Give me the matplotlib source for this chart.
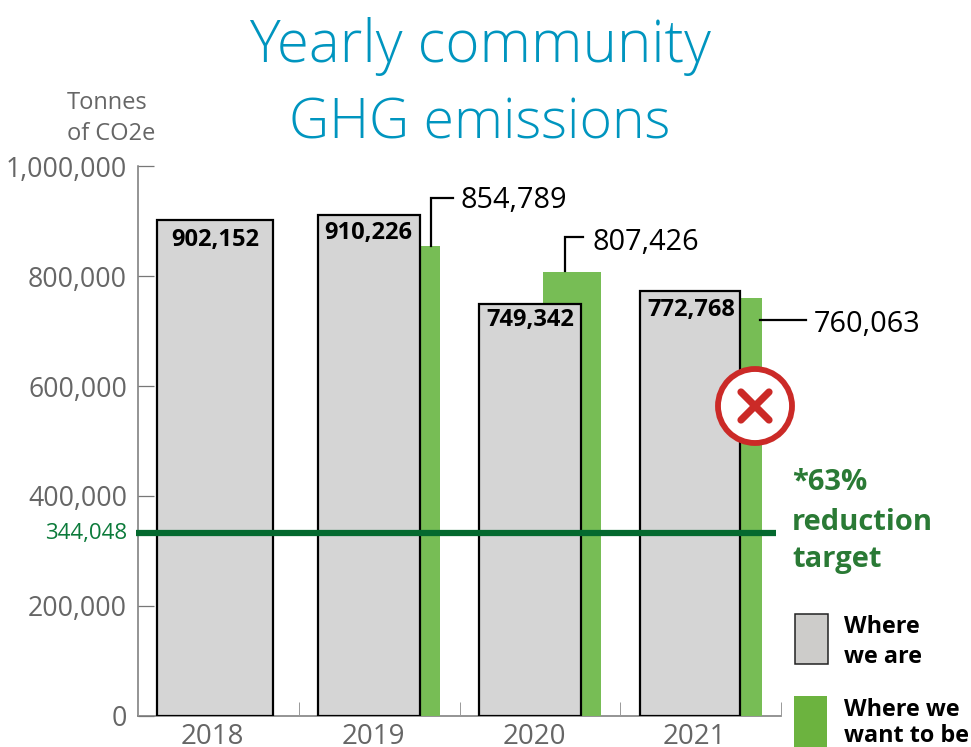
import matplotlib
matplotlib.use('Agg')
import matplotlib.pyplot as plt
from matplotlib.patches import Circle, Rectangle
from matplotlib.ticker import FuncFormatter

plt.rcParams['font.family'] = ['Open Sans', 'DejaVu Sans']

years = ['2018', '2019', '2020', '2021']
actual = [902152, 910226, 749342, 772768]
target_years = ['2019', '2020', '2021']
wanted = [854789, 807426, 760063]
# the line sits a bit below its printed value in the original
target_label = '344,048'
target_drawn = 332000
y_ticks = [0, 200000, 400000, 600000, 800000, 1000000]

W, H = 971, 747
x0, x1, y0, y1 = 138, 781.2, 716, 166
cat_w = (x1 - x0) / 4

gray_shift = [-3.4, -10.2, -10, -10.8]
gray_width = [116, 102, 102, 100]
label_shift = [0, -1, 0, 1]
label_drop = [20, 18, 16, 19]

fig = plt.figure(figsize=(W / 100, H / 100), dpi=100)
ax = fig.add_axes([x0 / W, (H - y0) / H, (x1 - x0) / W, (y0 - y1) / H])
ax.set_xlim(0, 4)
ax.set_ylim(0, 1000000)

for yr, v in zip(target_years, wanted):
    c = years.index(yr) + 0.5 + 32 / cat_w
    ax.bar(c, v, width=58 / cat_w, color='#77bd55', zorder=2)

for i, v in enumerate(actual):
    c = i + 0.5 + gray_shift[i] / cat_w
    ax.bar(c, v, width=gray_width[i] / cat_w, color='#d5d5d5', edgecolor='black',
           linewidth=1.6, zorder=3)
    ax.annotate(f'{v:,}', (c, v), xytext=(label_shift[i], -label_drop[i]),
                textcoords='offset pixels', ha='center', va='center',
                fontsize=17, fontweight='bold', color='black', zorder=5)

ax.spines['top'].set_visible(False)
ax.spines['right'].set_visible(False)
for s in ['left', 'bottom']:
    ax.spines[s].set_color('#777777')
    ax.spines[s].set_linewidth(1.1)
    ax.spines[s].set_zorder(1)

ax.set_yticks(y_ticks)
ax.yaxis.set_major_formatter(FuncFormatter(lambda v, p: f'{int(v):,}'))
ax.tick_params(axis='y', direction='in', length=11.5, width=0.9, color='#777777',
               labelcolor='#666666', labelsize=19.2, pad=8)
ax.set_xticks([0, 1, 2, 3, 4])
ax.set_xticklabels([])
ax.tick_params(axis='x', direction='in', length=10, width=0.7, color='#999999')
for i, yr in enumerate(years):
    ax.annotate(yr, (i + 0.5, 0), xytext=(-6, -28), textcoords='offset pixels',
                ha='center', va='baseline', fontsize=20, color='#666666',
                annotation_clip=False)

ax.plot([-2 / cat_w, 3.965], [target_drawn, target_drawn], color='#04692f',
        linewidth=4.5, solid_capstyle='butt', zorder=4, clip_on=False)

# overlay in pixel coordinates for the callouts
over = fig.add_axes([0, 0, 1, 1], zorder=5)
over.set_xlim(0, W)
over.set_ylim(H, 0)
over.axis('off')

over.text(127, 533, target_label, ha='right', va='center', fontsize=16, color='#0b7a3a')

over.text(480, 46, 'Yearly community', ha='center', va='center', fontsize=42,
          fontweight='light', color='#0095bf')
over.text(480, 124, 'GHG emissions', ha='center', va='center', fontsize=40,
          fontweight='light', color='#0095bf')
over.text(67, 103, 'Tonnes', ha='left', va='center', fontsize=17, color='#666666')
over.text(67, 134, 'of CO2e', ha='left', va='center', fontsize=17, color='#666666')

# leader lines and target values
over.plot([431, 431, 453], [246, 198, 198], color='black', lw=1.6, solid_joinstyle='miter')
over.plot([565, 565, 583], [271, 237, 237], color='black', lw=1.6, solid_joinstyle='miter')
over.plot([760, 806], [320, 320], color='black', lw=1.6)
over.text(461, 201, f'{wanted[0]:,}', ha='left', va='center', fontsize=20.8, color='black')
over.text(593, 243, f'{wanted[1]:,}', ha='left', va='center', fontsize=20.8, color='black')
over.text(814, 325, f'{wanted[2]:,}', ha='left', va='center', fontsize=20.8, color='black')

# red cross badge
over.add_patch(Circle((755, 406), 37, facecolor='white', edgecolor='#cb2a27', linewidth=4.2))
over.plot([741, 769], [392, 420], color='#cb2a27', lw=5.2, solid_capstyle='round')
over.plot([741, 769], [420, 392], color='#cb2a27', lw=5.2, solid_capstyle='round')

for y, t in zip([483, 522, 559], ['*63%', 'reduction', 'target']):
    over.text(792, y, t, ha='left', va='center', fontsize=21, fontweight='bold', color='#2a7a35')

# legend
over.add_patch(Rectangle((795, 614), 32.5, 50, facecolor='#cdccca', edgecolor='#222222', linewidth=1.1))
over.add_patch(Rectangle((794, 696), 33, 51, facecolor='#6cb33f', edgecolor='none'))
for y, t in zip([627, 657, 710, 736], ['Where', 'we are', 'Where we', 'want to be']):
    over.text(844, y, t, ha='left', va='center', fontsize=16.8, fontweight='bold', color='black')

fig.savefig('out.png', dpi=100)
